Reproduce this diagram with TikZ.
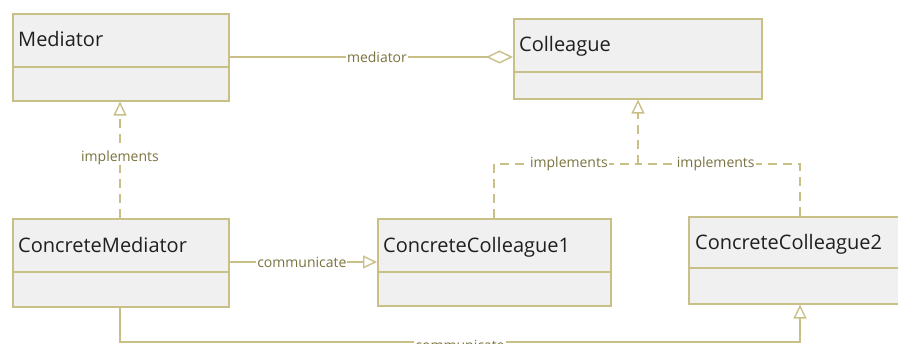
\documentclass[tikz,border=0pt]{standalone}
\usepackage{fontspec}
\setmainfont{Open Sans}
\usetikzlibrary{arrows.meta,shadows}
\definecolor{umlline}{HTML}{C9C088}
\definecolor{umltext}{HTML}{7A7340}
\definecolor{umlfill}{HTML}{F0F0F0}
\tikzset{
  classbox/.style={draw=umlline, line width=1.6pt, fill=umlfill, rectangle,
    inner sep=0pt, anchor=north west,
    drop shadow={shadow xshift=1.2pt, shadow yshift=-1.6pt, opacity=0.18, fill=black}},
  classname/.style={anchor=base west, inner sep=0pt, font=\fontsize{20}{22}\selectfont, text=black!88},
  divider/.style={draw=umlline, line width=1.6pt},
  conn/.style={draw=umlline, line width=1.4pt},
  dashconn/.style={conn, dash pattern=on 9pt off 6pt},
  lbl/.style={fill=white, inner sep=1pt, text=umltext, font=\fontsize{14}{16}\selectfont},
  realize/.style={-{Triangle[open, length=14pt, width=13pt, fill=white]}},
  aggr/.style={{Diamond[open, length=27pt, width=13pt, fill=white]}-},
}
\begin{document}
\begin{tikzpicture}[x=1pt, y=-1pt]
\useasboundingbox (0,0) rectangle (898,344);
\clip (0,0) rectangle (898,344);

% class boxes
\node[classbox, minimum width=216pt, minimum height=87pt] (med) at (12,13) {};
\node[classname] (medname) at (18,47) {Mediator};
\draw[divider] (12,67) -- (228,67);

\node[classbox, minimum width=248pt, minimum height=80pt] (col) at (513,18) {};
\node[classname] (colname) at (519,52) {Colleague};
\draw[divider] (513,72) -- (761,72);

\node[classbox, minimum width=216pt, minimum height=88pt] (cmed) at (12,218) {};
\node[classname] (cmedname) at (18,253) {ConcreteMediator};
\draw[divider] (12,272) -- (228,272);

\node[classbox, minimum width=233pt, minimum height=87pt] (cc1) at (377,218) {};
\node[classname] (cc1name) at (383,253) {ConcreteColleague1};
\draw[divider] (377,272) -- (610,272);

\node[classbox, minimum width=220pt, minimum height=87pt] (cc2) at (688,216) {};
\node[classname] (cc2name) at (695,250) {ConcreteColleague2};
\draw[divider] (688,268) -- (908,268);

% junction points of the routed connectors
\coordinate (j) at (638,164);
\coordinate (b1) at (120,342);
\coordinate (b2) at (800,342);

% Colleague aggregated by Mediator
\draw[conn, aggr] (col.west |- 0,57) -- node[lbl, pos=0.48] (lmed) {mediator} (med.east |- 0,57);

% Mediator realized by ConcreteMediator
\draw[dashconn, realize] (cmed.north -| 120,0) -- node[lbl, pos=0.52] (limp0) {implements} (med.south -| 120,0);

% Colleague realized by both concrete colleagues
\draw[dashconn] (cc1.north -| 494,0) |- node[lbl, pos=0.76] (limp1) {implements} (j);
\draw[dashconn] (cc2.north -| 800,0) |- node[lbl, pos=0.76] (limp2) {implements} (j);
\draw[dashconn, realize] (j) -- (col.south -| 638,0);

% ConcreteMediator communicates with the concrete colleagues
\draw[conn, realize] (cmed.east |- 0,262) -- node[lbl, pos=0.49] (lcom1) {communicate} (cc1.west |- 0,262);
\draw[conn, realize] (cmed.south -| 120,0) -- (b1) -- node[lbl, pos=0.5, yshift=-3pt] (lcom2) {communicate} (b2) -- (cc2.south -| 800,0);
\end{tikzpicture}
\end{document}
